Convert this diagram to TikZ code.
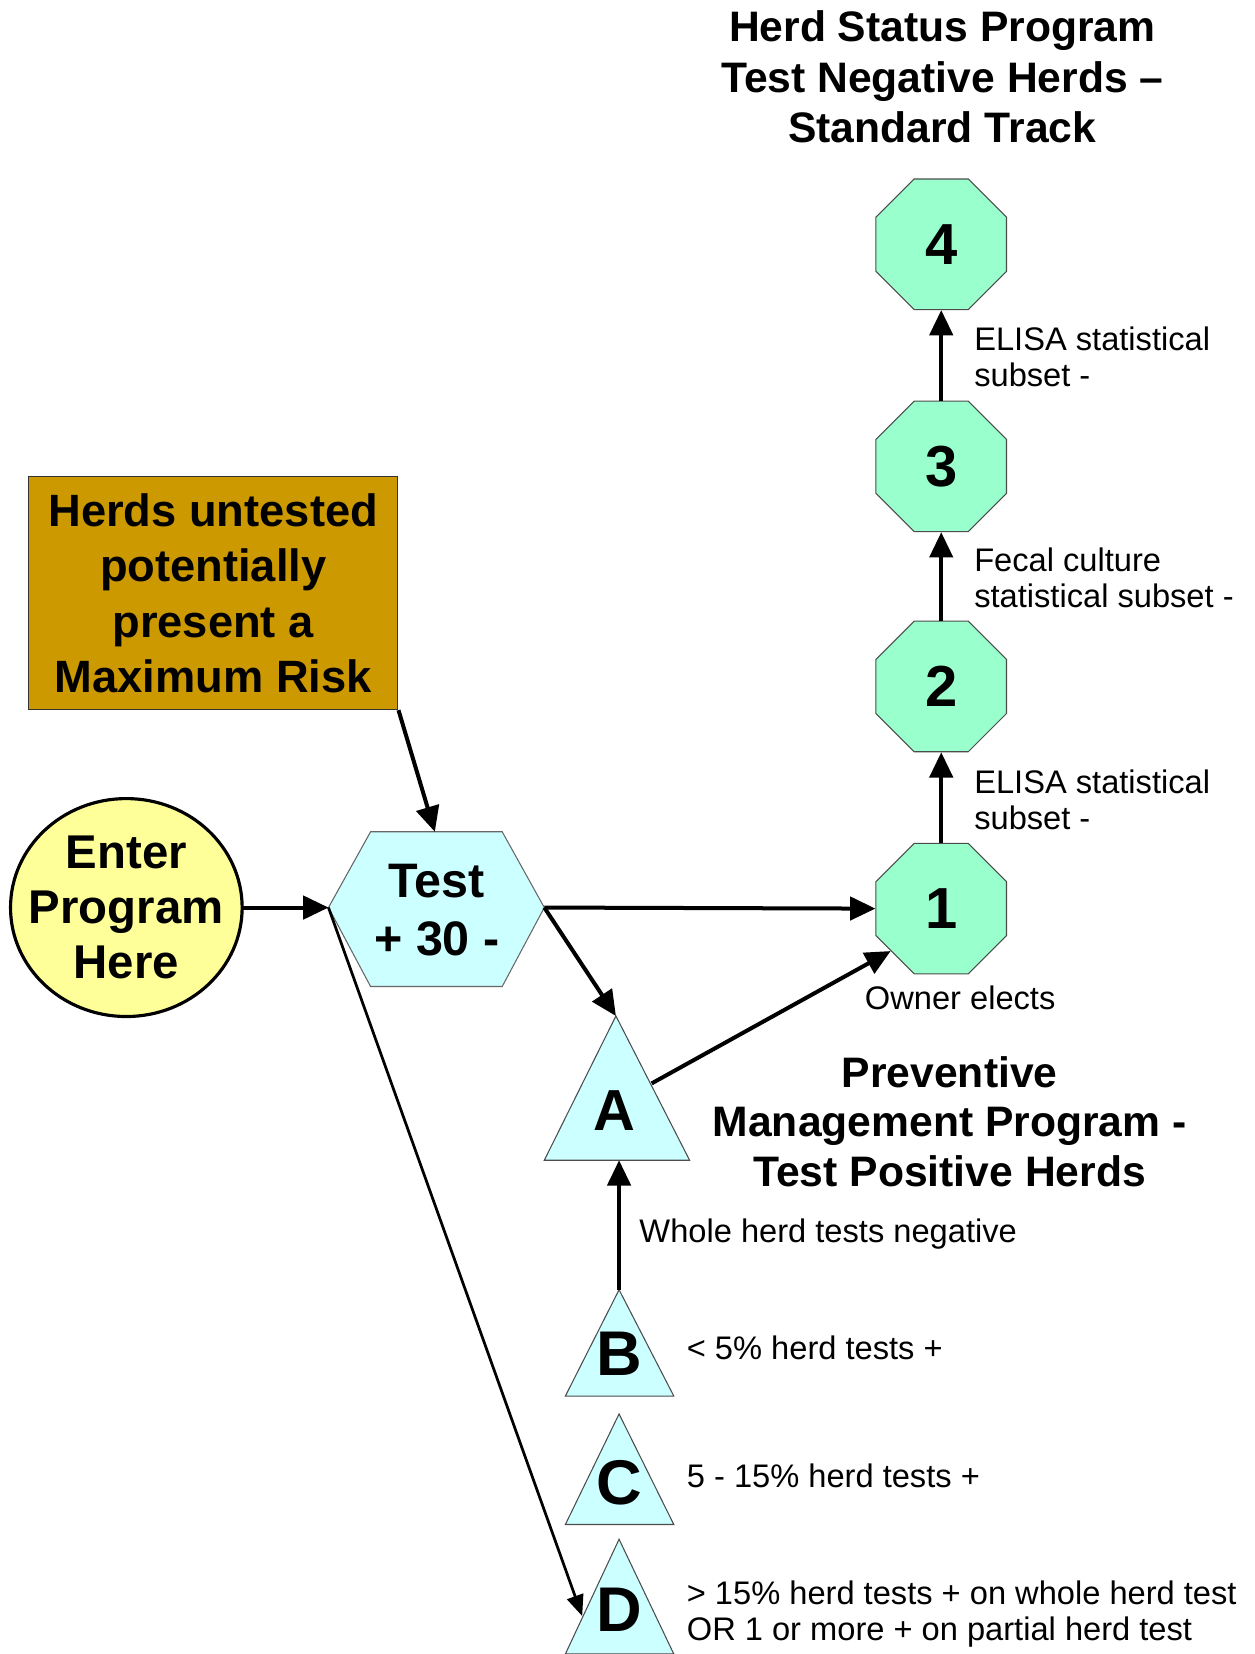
\documentclass[tikz,border=0pt]{standalone}
\usepackage{fontspec}
\setmainfont{Liberation Sans}
\usetikzlibrary{arrows.meta,shapes.geometric}
\definecolor{mint}{HTML}{99FFCC}
\definecolor{palecyan}{HTML}{CCFFFF}
\definecolor{paleyellow}{HTML}{FFFF99}
\definecolor{goldbox}{HTML}{CC9900}
\newcommand\fsz[2]{\fontsize{#1}{#2}\selectfont}
\begin{document}
\begin{tikzpicture}[x=0.5pt,y=-0.5pt,
  oct/.style={regular polygon, regular polygon sides=8, minimum size=67.1pt, inner sep=0pt,
    fill=mint, draw=black!70, line width=0.5pt, font=\fsz{27.5}{30}\bfseries},
  tri/.style={fill=palecyan, draw=black!70, line width=0.5pt},
  trilet/.style={inner sep=0pt, font=\fsz{30}{32}\bfseries},
  lbl/.style={inner sep=0pt, anchor=west, align=left, font=\fsz{15.5}{17}},
  conn/.style={line width=1.9pt, -{Triangle[length=12pt,width=11pt]}},
  thinconn/.style={line width=1.3pt, -{Triangle[length=10pt,width=8pt]}}]
\fill[white] (0,0) rectangle (1192,1571);
\useasboundingbox (0,0) rectangle (1192,1571);

% title
\node[inner sep=0pt, align=center, font=\fsz{20.25}{24}\bfseries] (title) at (895,73)
  {Herd Status Program\\Test Negative Herds --\\Standard Track};

% octagons
\node[oct] (o4) at (894,232) {4};
\node[oct] (o3) at (894,443) {3};
\node[oct] (o2) at (894,652) {2};
\node[oct] (o1) at (894,863) {1};
\draw[conn] (o3.north) -- (o4.south);
\draw[conn] (o2.north) -- (o3.south);
\draw[conn] (o1.north) -- (o2.south);
\node[lbl] (l34) at (925,339) {ELISA statistical\\subset -};
\node[lbl] (l23) at (925,549) {Fecal culture\\statistical subset -};
\node[lbl] (l12) at (925,760) {ELISA statistical\\subset -};

% risk box
\node[fill=goldbox, draw=black!80, line width=0.5pt, minimum width=175.5pt, minimum height=110.5pt,
  inner sep=0pt, align=center, font=\fsz{21.5}{26.3}\bfseries] (risk) at (202.5,563.5)
  {Herds untested\\potentially\\present a\\Maximum Risk};

% enter circle
\filldraw[fill=paleyellow, draw=black, line width=1.5pt] (120,862) ellipse [x radius=55pt, y radius=51.75pt];
\node[inner sep=0pt, align=center, font=\fsz{22.5}{26.25}\bfseries] (enter) at (120,862)
  {Enter\\Program\\Here};
\coordinate (enterE) at (230,862);

% hexagon
\filldraw[fill=palecyan, draw=black!60, line width=0.5pt]
  (312,862) -- (352,790) -- (477,790) -- (517,862) -- (477,937) -- (352,937) -- cycle;
\coordinate (hexL) at (312,862);
\coordinate (hexR) at (517,862);
\coordinate (hexT) at (413,790);
\node[inner sep=0pt, align=center, font=\fsz{23}{27.5}\bfseries] (test) at (415,864) {Test\\+ 30 -};

% triangles
\filldraw[tri] (585,965) -- (655,1102) -- (517,1102) -- cycle;
\filldraw[tri] (588,1225) -- (640,1326) -- (537,1326) -- cycle;
\filldraw[tri] (588,1343) -- (640,1448) -- (537,1448) -- cycle;
\filldraw[tri] (588,1462) -- (640,1571) -- (537,1571) -- cycle;
\coordinate (Atop) at (585,965);
\coordinate (Abase) at (588,1102);
\coordinate (Aright) at (619,1029);
\coordinate (Btop) at (588,1225);
\coordinate (Dleft) at (553,1535);
\node[trilet, font=\fsz{27.5}{30}\bfseries] (A) at (584,1055) {A};
\node[trilet] (B) at (588,1286) {B};
\node[trilet] (C) at (588,1408) {C};
\node[trilet] (D) at (588,1529) {D};

% connectors
\draw[conn] (enterE) -- (hexL);
\draw[conn] (risk.south east) -- (hexT);
\draw[conn] (hexR) -- (o1.west);
\draw[conn] (hexR) -- (Atop);
\draw[conn] (Aright) -- (o1.220);
\draw[conn] (Btop) -- (Abase);
\draw[thinconn] (hexL) -- (Dleft);

% labels
\node[inner sep=0pt, font=\fsz{15.5}{17}] (owner) at (912,948) {Owner elects};
\node[inner sep=0pt, align=center, font=\fsz{20.25}{23.5}\bfseries] (prev) at (902,1065)
  {Preventive\\Management Program -\\Test Positive Herds};
\node[lbl] (lneg) at (607,1172) {Whole herd tests negative};
\node[lbl] (lB) at (652,1280) {< 5\% herd tests +};
\node[lbl] (lC) at (652,1402) {5 - 15\% herd tests +};
\node[lbl] (lD) at (652,1533) {> 15\% herd tests + on whole herd test\\OR 1 or more + on partial herd test};
\end{tikzpicture}
\end{document}
